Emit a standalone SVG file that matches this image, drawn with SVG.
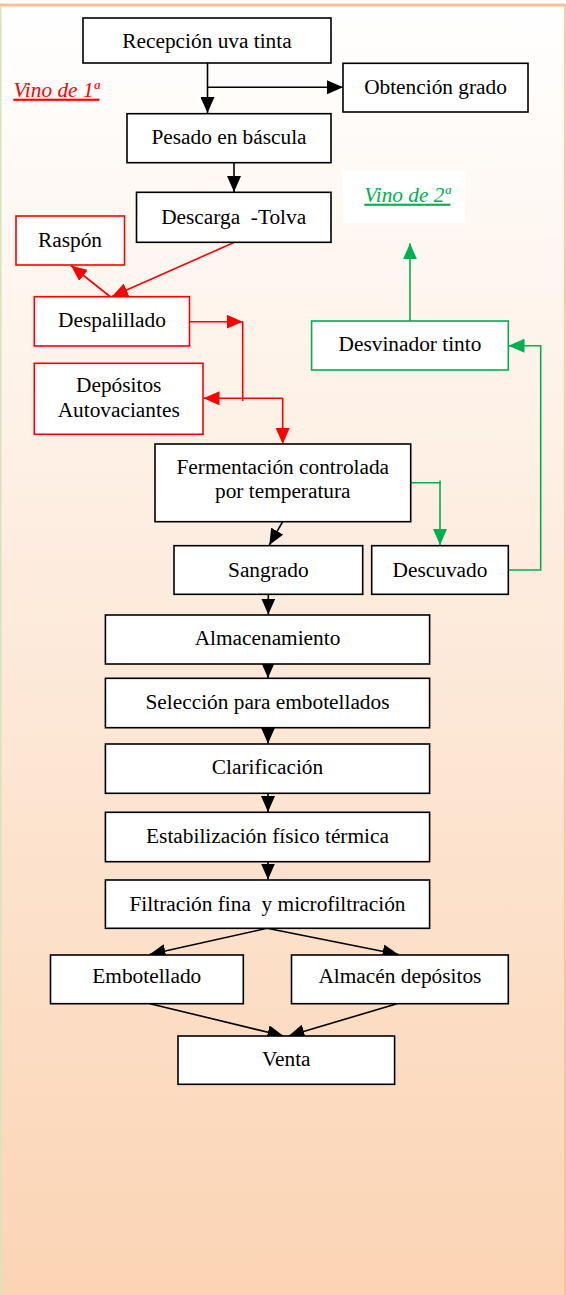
<svg xmlns="http://www.w3.org/2000/svg" width="566" height="1295" viewBox="0 0 566 1295">
<defs>
<linearGradient id="bg" x1="0" y1="0" x2="0" y2="1">
<stop offset="0" stop-color="#FFFFFF"/>
<stop offset="1" stop-color="#FBD4B4"/>
</linearGradient>
<marker id="ak" markerUnits="userSpaceOnUse" markerWidth="16" markerHeight="14" refX="16" refY="7" orient="auto"><path d="M0,0 L16,7 L0,14 z" fill="#000"/></marker>
<marker id="ar" markerUnits="userSpaceOnUse" markerWidth="16" markerHeight="14" refX="16" refY="7" orient="auto"><path d="M0,0 L16,7 L0,14 z" fill="#FF0000"/></marker>
<marker id="ag" markerUnits="userSpaceOnUse" markerWidth="16" markerHeight="14" refX="16" refY="7" orient="auto"><path d="M0,0 L16,7 L0,14 z" fill="#00B050"/></marker>
<style>
.bx{fill:#fff;stroke:#000;stroke-width:1.6}
.br{fill:#fff;stroke:#FF0000;stroke-width:1.6}
.bg{fill:#fff;stroke:#00B050;stroke-width:1.6}
.t{font-family:"Liberation Serif","Times New Roman",serif;font-size:21.33px;fill:#000;text-anchor:middle}
.lbl{font-family:"Liberation Serif","Times New Roman",serif;font-size:21.33px;font-style:italic;text-decoration:underline}
.ck{fill:none;stroke:#000;stroke-width:1.6;marker-end:url(#ak)}
.cr{fill:none;stroke:#FF0000;stroke-width:1.6}
.cg{fill:none;stroke:#00B050;stroke-width:1.6}
</style>
</defs>
<rect x="0" y="5" width="566" height="1290" fill="url(#bg)"/>
<line x1="0" y1="5" x2="566" y2="5" stroke="#FAC090" stroke-width="3"/>
<line x1="0.8" y1="6" x2="0.8" y2="1295" stroke="#D7E4BC" stroke-width="1.6"/>
<line x1="565" y1="6" x2="565" y2="1295" stroke="#FAC090" stroke-width="1.6"/>

<g id="label-vino1"><text class="lbl" x="13.4" y="96.7" fill="#FF0000">Vino de 1ª</text></g>
<g id="label-vino2"><rect x="343" y="171" width="122" height="52" fill="#fff"/><text class="lbl" x="364.3" y="201.7" fill="#00B050">Vino de 2ª</text></g>

<g id="connectors">
<path class="ck" d="M207.5,63 V113"/>
<path class="ck" d="M207.5,87.3 H343"/>
<path class="ck" d="M234,163 V192"/>
<path class="ck" d="M282.7,521.7 L269.3,545"/>
<path class="ck" d="M268.3,594.3 V614.5"/>
<path class="ck" d="M268,664 V678"/>
<path class="ck" d="M268,727.7 V743.5"/>
<path class="ck" d="M268,793.3 V812"/>
<path class="ck" d="M268,861.7 V879.5"/>
<path class="ck" d="M267,928.3 L149.5,954.5"/>
<path class="ck" d="M267,928.3 L398.5,954.5"/>
<path class="ck" d="M150,1003.7 L283.5,1036"/>
<path class="ck" d="M397,1003.7 L288.5,1036"/>
<path class="cr" marker-end="url(#ar)" d="M234,242.5 L111.9,296.5"/>
<path class="cr" marker-end="url(#ar)" d="M110,296.5 L71,265.5"/>
<path class="cr" marker-end="url(#ar)" d="M189.5,321.7 H242.7"/>
<path class="cr" d="M242.7,321.7 V401"/>
<path class="cr" marker-end="url(#ar)" d="M282.7,398.3 H203.5"/>
<path class="cr" marker-end="url(#ar)" d="M282.7,398.3 V444"/>
<path class="cg" marker-end="url(#ag)" d="M410.7,482.7 H440 V545"/>
<path class="cg" d="M440,480.5 V483"/>
<path class="cg" marker-end="url(#ag)" d="M508.3,570 H540.7 V345.7 H508.5"/>
<path class="cg" marker-end="url(#ag)" d="M410,321 V243.3"/>
</g>

<g id="n-recepcion"><rect class="bx" x="83" y="18" width="248" height="45"/><text class="t" x="207" y="48.3">Recepción uva tinta</text></g>
<g id="n-obtencion"><rect class="bx" x="343" y="63.3" width="185" height="48.7"/><text class="t" x="435.5" y="94.3">Obtención grado</text></g>
<g id="n-pesado"><rect class="bx" x="127" y="113.7" width="204" height="49"/><text class="t" x="229" y="143.5">Pesado en báscula</text></g>
<g id="n-descarga"><rect class="bx" x="136.5" y="192.3" width="194.5" height="50"/><text class="t" x="233.7" y="223.5" xml:space="preserve">Descarga  -Tolva</text></g>
<g id="n-raspon"><rect class="br" x="16" y="216" width="108.5" height="49"/><text class="t" x="70" y="246.7">Raspón</text></g>
<g id="n-despalillado"><rect class="br" x="34.3" y="296.7" width="155.2" height="49.3"/><text class="t" x="112" y="326.7">Despalillado</text></g>
<g id="n-depositos"><rect class="br" x="34.3" y="363.3" width="168.7" height="71"/><text class="t" x="118.7" y="392.3">Depósitos</text><text class="t" x="118.7" y="416.7">Autovaciantes</text></g>
<g id="n-desvinador"><rect class="bg" x="311.6" y="321" width="196.7" height="49"/><text class="t" x="410" y="350.7">Desvinador tinto</text></g>
<g id="n-fermentacion"><rect class="bx" x="155" y="444" width="255.7" height="77.7"/><text class="t" x="282.8" y="474">Fermentación controlada</text><text class="t" x="282.8" y="498.3">por temperatura</text></g>
<g id="n-sangrado"><rect class="bx" x="174" y="545.7" width="188.7" height="48.6"/><text class="t" x="268.3" y="576.7">Sangrado</text></g>
<g id="n-descuvado"><rect class="bx" x="371.7" y="545.7" width="136.6" height="48.6"/><text class="t" x="440" y="576.7">Descuvado</text></g>
<g id="n-almacenamiento"><rect class="bx" x="105.4" y="615" width="324.2" height="49"/><text class="t" x="267.5" y="645">Almacenamiento</text></g>
<g id="n-seleccion"><rect class="bx" x="105.4" y="678.3" width="324.2" height="49.4"/><text class="t" x="267.5" y="709.3">Selección para embotellados</text></g>
<g id="n-clarificacion"><rect class="bx" x="105.4" y="744" width="324.2" height="49.3"/><text class="t" x="267.5" y="774">Clarificación</text></g>
<g id="n-estabilizacion"><rect class="bx" x="105.4" y="812.3" width="324.2" height="49.4"/><text class="t" x="267.5" y="842.7">Estabilización físico térmica</text></g>
<g id="n-filtracion"><rect class="bx" x="105.4" y="880" width="324.2" height="48.3"/><text class="t" x="267.5" y="910.7" xml:space="preserve">Filtración fina  y microfiltración</text></g>
<g id="n-embotellado"><rect class="bx" x="50.5" y="955" width="192.8" height="48.7"/><text class="t" x="146.8" y="983.3">Embotellado</text></g>
<g id="n-almacen"><rect class="bx" x="291.5" y="955" width="216.8" height="48.7"/><text class="t" x="399.9" y="983.3">Almacén depósitos</text></g>
<g id="n-venta"><rect class="bx" x="178" y="1036" width="216.6" height="48.3"/><text class="t" x="286.3" y="1066">Venta</text></g>
</svg>
